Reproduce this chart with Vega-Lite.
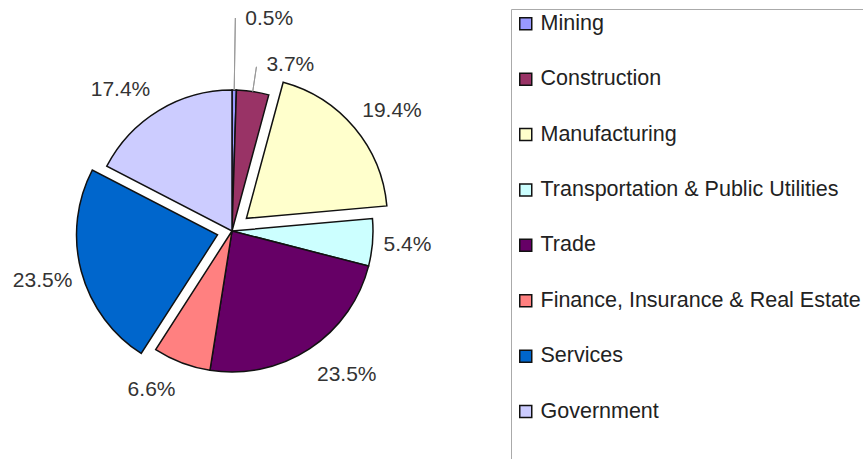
{
  "$schema": "https://vega.github.io/schema/vega-lite/v6.json",
  "width": 464,
  "height": 462,
  "padding": 0,
  "background": "white",
  "config": {"view": {"stroke": null}},
  "data": {"values": [
    {"order": 1, "sector": "Mining", "share": 0.5},
    {"order": 2, "sector": "Construction", "share": 3.7},
    {"order": 3, "sector": "Manufacturing", "share": 19.4},
    {"order": 4, "sector": "Transportation & Public Utilities", "share": 5.4},
    {"order": 5, "sector": "Trade", "share": 23.5},
    {"order": 6, "sector": "Finance, Insurance & Real Estate", "share": 6.6},
    {"order": 7, "sector": "Services", "share": 23.5},
    {"order": 8, "sector": "Government", "share": 17.4}
  ]},
  "transform": [
    {"stack": "share", "groupby": [], "sort": [{"field": "order", "order": "ascending"}], "as": ["start", "end"]},
    {"calculate": "(datum.start + datum.end) / 2", "as": "mid"},
    {"calculate": "format(datum.share, '.1f') + '%'", "as": "label"}
  ],
  "encoding": {
    "theta": {"field": "start", "type": "quantitative", "scale": {"domain": [0, 100], "range": [0, 6.283185307]}}
  },
  "layer": [
    {
      "transform": [{"filter": "datum.sector != 'Manufacturing' && datum.sector != 'Services'"}],
      "mark": {"type": "arc", "outerRadius": 141, "stroke": "#111111", "strokeWidth": 1.5},
      "encoding": {
        "theta2": {"field": "end"},
        "color": {
          "field": "sector", "type": "nominal",
          "scale": {
            "domain": ["Mining", "Construction", "Manufacturing", "Transportation & Public Utilities", "Trade", "Finance, Insurance & Real Estate", "Services", "Government"],
            "range": ["#9999ff", "#993366", "#ffffcc", "#ccffff", "#660066", "#ff8080", "#0066cc", "#ccccff"]
          },
          "legend": {
            "orient": "none", "legendX": 511, "legendY": 9,
            "title": " ", "titleOrient": "bottom", "titleFontSize": 21, "titlePadding": 14,
            "padding": 4, "strokeColor": "#aaaaaa",
            "symbolType": "square", "symbolSize": 144, "symbolStrokeColor": "#333333", "symbolStrokeWidth": 1.5,
            "labelFont": "Liberation Sans", "labelFontSize": 21.5, "labelColor": "#222222", "labelOffset": 4,
            "labelLimit": 400, "rowPadding": 32.4
          }
        }
      }
    },
    {
      "transform": [{"filter": "datum.sector == 'Manufacturing'"}],
      "mark": {"type": "arc", "outerRadius": 141, "stroke": "#111111", "strokeWidth": 1.5, "xOffset": 14.4, "yOffset": -12.7},
      "encoding": {"theta2": {"field": "end"}, "color": {"field": "sector", "type": "nominal"}}
    },
    {
      "transform": [{"filter": "datum.sector == 'Services'"}],
      "mark": {"type": "arc", "outerRadius": 141, "stroke": "#111111", "strokeWidth": 1.5, "xOffset": -14.5, "yOffset": 3.9},
      "encoding": {"theta2": {"field": "end"}, "color": {"field": "sector", "type": "nominal"}}
    },
    {
      "transform": [{"filter": "datum.sector == 'Mining'"}],
      "mark": {"type": "arc", "innerRadius": 141, "outerRadius": 213, "stroke": "#999999", "strokeWidth": 1, "fill": null},
      "encoding": {"theta": {"field": "mid", "type": "quantitative"}, "theta2": {"field": "mid"}}
    },
    {
      "transform": [{"filter": "datum.sector == 'Construction'"}],
      "mark": {"type": "arc", "innerRadius": 141, "outerRadius": 166, "stroke": "#999999", "strokeWidth": 1, "fill": null},
      "encoding": {"theta": {"field": "mid", "type": "quantitative"}, "theta2": {"field": "mid"}}
    },
    {
      "transform": [{"filter": "datum.sector == 'Transportation & Public Utilities'"}],
      "mark": {"type": "text", "radius": 178, "font": "Liberation Sans", "fontSize": 21, "color": "#333333", "align": "center", "baseline": "middle", "dx": -2, "dy": -1},
      "encoding": {"theta": {"field": "mid", "type": "quantitative"}, "text": {"field": "label"}}
    },
    {
      "transform": [{"filter": "datum.sector == 'Trade'"}],
      "mark": {"type": "text", "radius": 178, "font": "Liberation Sans", "fontSize": 21, "color": "#333333", "align": "center", "baseline": "middle", "dx": 17, "dy": -5},
      "encoding": {"theta": {"field": "mid", "type": "quantitative"}, "text": {"field": "label"}}
    },
    {
      "transform": [{"filter": "datum.sector == 'Finance, Insurance & Real Estate'"}],
      "mark": {"type": "text", "radius": 178, "font": "Liberation Sans", "fontSize": 21, "color": "#333333", "align": "center", "baseline": "middle", "dx": -17, "dy": -7},
      "encoding": {"theta": {"field": "mid", "type": "quantitative"}, "text": {"field": "label"}}
    },
    {
      "transform": [{"filter": "datum.sector == 'Government'"}],
      "mark": {"type": "text", "radius": 178, "font": "Liberation Sans", "fontSize": 21, "color": "#333333", "align": "center", "baseline": "middle", "dx": -19, "dy": 11},
      "encoding": {"theta": {"field": "mid", "type": "quantitative"}, "text": {"field": "label"}}
    },
    {
      "transform": [{"filter": "datum.sector == 'Manufacturing'"}],
      "mark": {"type": "text", "radius": 180, "font": "Liberation Sans", "fontSize": 21, "color": "#333333", "align": "center", "baseline": "middle", "dx": 22, "dy": -4},
      "encoding": {"theta": {"field": "mid", "type": "quantitative"}, "text": {"field": "label"}}
    },
    {
      "transform": [{"filter": "datum.sector == 'Services'"}],
      "mark": {"type": "text", "radius": 181, "font": "Liberation Sans", "fontSize": 21, "color": "#333333", "align": "center", "baseline": "middle", "dx": -14.5, "dy": 3},
      "encoding": {"theta": {"field": "mid", "type": "quantitative"}, "text": {"field": "label"}}
    },
    {
      "transform": [{"filter": "datum.sector == 'Mining'"}],
      "mark": {"type": "text", "radius": 213, "font": "Liberation Sans", "fontSize": 21, "color": "#333333", "align": "left", "baseline": "middle", "dx": 10, "dy": 1},
      "encoding": {"theta": {"field": "mid", "type": "quantitative"}, "text": {"field": "label"}}
    },
    {
      "transform": [{"filter": "datum.sector == 'Construction'"}],
      "mark": {"type": "text", "radius": 166, "font": "Liberation Sans", "fontSize": 21, "color": "#333333", "align": "left", "baseline": "middle", "dx": 10, "dy": -2},
      "encoding": {"theta": {"field": "mid", "type": "quantitative"}, "text": {"field": "label"}}
    }
  ]
}
